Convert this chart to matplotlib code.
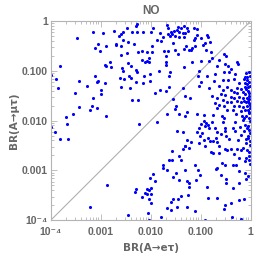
import numpy as np
import matplotlib
matplotlib.use("Agg")
import matplotlib.pyplot as plt
from matplotlib.ticker import LogLocator, FixedLocator, NullFormatter

# values, stored as log10(BR)
log10_br_etau = [
    -3.15, -2.95, -2.73, -3.47, -3.05, -2.69, -2.89, -3.12, -3.02, -2.82, -2.92, -2.89, -2.79, -3.81,
    -3.99, -3.12, -3.89, -3.43, -3.06, -3.08, -2.91, -3.27, -3.85, -2.99, -3.51, -2.99, -3.15, -3.43,
    -3.17, -3.07, -3.21, -3.55, -2.89, -3.69, -3.68, -3.99, -3.91, -3.81, -3.66, -2.88, -3.21,
    -2.28, -2.30, -2.47, -1.95, -1.67, -1.65, -1.45, -1.39, -1.34, -2.56, -2.37, -2.28, -2.15, -1.99,
    -1.82, -1.59, -1.53, -1.48, -1.43, -1.36, -2.60, -2.64, -1.66, -1.61, -1.57, -1.52, -1.43, -1.33,
    -1.76, -1.88, -1.80, -2.45, -2.55, -2.33, -2.69, -2.59, -1.97, -1.55, -1.33, -2.17, -2.07, -1.98,
    -1.74, -1.66, -1.51, -2.48, -2.25, -2.60, -1.45, -1.69, -2.17, -2.11, -2.07, -2.04, -2.03, -2.45,
    -1.69, -1.69, -1.33, -2.40, -2.57, -2.55, -2.29, -2.28, -1.84, -1.61, -2.01, -1.63, -2.43, -2.40,
    -2.61, -2.53, -2.13, -2.01, -2.29, -2.16, -2.59, -2.42, -1.82, -1.70, -1.63, -1.91, -1.36, -2.38,
    -2.25, -1.56, -1.49, -1.51, -1.67, -1.43,
    -1.28, -1.13, -1.08, -1.25, -1.31, -1.07, -0.87, -0.85, -1.00, -1.11, -1.13, -0.81, -0.91, -0.95,
    -1.30, -1.17, -1.23, -1.19, -1.11, -0.80, -0.89, -0.53, -0.49, -0.99, -0.84, -0.64, -1.17, -0.77,
    -1.04, -0.51, -0.45, -0.28, -0.25, -0.40, -0.68, -0.53, -0.43, -0.31, -0.09, -0.72, -1.05, -0.87,
    -0.11, -0.13, -0.08, -0.55, -0.45, -0.33, -0.99, -0.73, -0.23, -0.11, -0.07, -1.03, -0.84, -0.64,
    -0.48, -0.27, -0.20, -0.09, -0.05, -0.55, -0.40, -0.33, -0.27, -0.16, -0.11, -0.04, -0.59, -0.51,
    -1.32, -1.21, -0.77, -0.67, -0.40, -0.33, -0.23, -0.16, -0.08, -0.03, -0.55, -0.47, -0.39, -0.27,
    -0.19, -0.09, -0.04, -0.72, -0.64, -0.53, -0.33, -0.24, -0.15, -0.07, -0.01, -0.68, -0.47, -0.36,
    -0.20, -0.11, -0.03, -1.28, -1.07, -0.93, -0.75, -0.57, -0.29, -0.09, -0.03, -1.31, -0.53,
    -2.23, -1.87, -1.48, -1.36, -1.31, -1.35, -1.58, -1.43, -1.40, -1.64, -1.58, -1.76, -1.76, -1.68,
    -1.32, -1.49, -1.55, -1.44, -1.96, -2.01, -1.92, -2.29, -2.32, -2.08, -2.04, -1.99, -2.11, -2.07,
    -1.99, -2.17, -2.03, -1.99, -1.40, -1.45, -1.55, -1.60, -1.48, -1.67, -1.60, -2.45, -2.05, -1.80,
    -2.03,
    -0.99, -0.93, -0.89, -0.85, -0.77, -0.83, -0.91, -1.03, -1.07, -0.97, -1.01, -0.72, -0.68, -0.59,
    -0.56, -0.52, -0.35, -0.31, -0.16, -0.11, -0.07, -0.13, -0.19, -0.05, -0.01, -0.51, -0.32, -0.93,
    -0.85, -0.81, -0.76, -0.69, -0.67, -0.49, -0.43, -0.25, -0.09, -0.01, -1.28, -1.19, -1.04, -1.32,
    -1.23, -0.92, -0.63, -0.52, -0.47, -0.40, -0.28, -0.19, -0.08, -0.03, -0.80, -0.76, -0.63, -0.33,
    -0.09, -0.24, -0.04, -0.11, -1.12, -0.57, -0.51, -0.35, -0.29, -0.68, -0.69, -1.05, -1.01, -0.60,
    -0.24, -0.11, -1.09, -0.49, -0.09, -1.28, -1.24, -1.24, -0.49, -0.24, -0.88, -0.36, -1.25, -0.85,
    -0.68, -0.13, -0.23, -0.40, -0.51, -1.27, -0.53, -1.12, -0.37, -0.20, -0.92,
    -0.02, -0.04, -0.02, -0.06, -0.03, -0.05, -0.02, -0.06, -0.04, -0.02, -0.05, -0.03, -0.06, -0.02,
    -0.04, -0.03, -0.07, -0.12, -0.14, -0.13, -0.18, -0.22, -0.10, -0.15, -0.02, -0.06,
]
log10_br_mutau = [
    -0.22, -0.25, -0.21, -0.35, -0.46, -0.47, -0.51, -0.55, -0.61, -0.83, -0.89, -0.91, -0.93, -0.90,
    -1.09, -1.10, -1.17, -1.21, -1.20, -1.23, -1.25, -1.30, -1.35, -1.39, -1.45, -1.47, -1.54, -1.73,
    -1.71, -1.75, -1.78, -1.87, -1.91, -1.93, -2.07, -2.13, -2.23, -2.37, -2.37, -3.29, -3.73,
    -0.06, -0.10, -0.14, -0.14, -0.09, -0.14, -0.13, -0.14, -0.11, -0.23, -0.23, -0.23, -0.22, -0.22,
    -0.25, -0.22, -0.21, -0.19, -0.23, -0.25, -0.27, -0.30, -0.27, -0.30, -0.26, -0.31, -0.33, -0.33,
    -0.33, -0.38, -0.41, -0.42, -0.39, -0.47, -0.49, -0.51, -0.50, -0.45, -0.57, -0.61, -0.62, -0.62,
    -0.61, -0.61, -0.59, -0.65, -0.63, -0.69, -0.66, -0.71, -0.79, -0.82, -0.81, -0.83, -0.74, -0.85,
    -0.83, -0.89, -0.93, -0.91, -0.95, -1.01, -0.99, -1.02, -1.01, -1.03, -1.06, -1.10, -1.10, -1.15,
    -1.15, -1.17, -1.11, -1.21, -1.23, -1.25, -1.33, -1.35, -1.38, -1.41, -1.33, -1.45, -1.34, -1.58,
    -1.59, -1.57, -1.70, -1.77, -1.87, -1.87,
    -0.14, -0.14, -0.17, -0.21, -0.25, -0.29, -0.29, -0.33, -0.35, -0.35, -0.38, -0.43, -0.45, -0.49,
    -0.50, -0.54, -0.58, -0.59, -0.51, -0.62, -0.58, -0.66, -0.70, -0.81, -0.81, -0.79, -0.82, -0.75,
    -1.01, -0.87, -0.91, -0.83, -0.87, -0.97, -0.91, -1.03, -1.03, -1.06, -1.05, -1.07, -1.11, -1.11,
    -1.13, -1.17, -1.19, -1.18, -1.18, -1.17, -1.22, -1.21, -1.25, -1.25, -1.26, -1.30, -1.34, -1.30,
    -1.33, -1.35, -1.37, -1.37, -1.33, -1.38, -1.38, -1.42, -1.45, -1.43, -1.46, -1.45, -1.46, -1.49,
    -1.51, -1.54, -1.51, -1.54, -1.53, -1.54, -1.53, -1.55, -1.54, -1.57, -1.59, -1.62, -1.63, -1.61,
    -1.63, -1.62, -1.65, -1.65, -1.69, -1.70, -1.70, -1.71, -1.73, -1.71, -1.74, -1.74, -1.78, -1.79,
    -1.81, -1.78, -1.82, -1.82, -1.86, -1.89, -1.89, -1.90, -1.87, -1.91, -1.94, -1.90, -1.95,
    -2.07, -2.03, -2.21, -2.22, -2.50, -2.57, -2.61, -2.70, -2.78, -2.78, -2.78, -2.89, -2.95, -2.99,
    -2.99, -3.05, -3.13, -3.19, -3.07, -3.15, -3.21, -3.38, -3.43, -3.37, -3.39, -3.35, -3.45, -3.47,
    -3.47, -3.54, -3.58, -3.65, -3.51, -3.57, -3.57, -3.63, -3.73, -3.75, -3.79, -3.90, -3.86, -3.93,
    -3.99,
    -2.06, -2.01, -2.05, -2.09, -2.03, -2.14, -2.11, -2.14, -2.23, -2.25, -2.30, -2.14, -2.23, -2.26,
    -2.03, -2.14, -2.14, -2.03, -1.99, -2.09, -2.14, -2.21, -2.29, -2.30, -2.25, -2.21, -2.21, -2.38,
    -2.34, -2.41, -2.41, -2.35, -2.42, -2.30, -2.37, -2.38, -2.37, -2.41, -2.39, -2.43, -2.45, -2.51,
    -2.54, -2.50, -2.51, -2.57, -2.58, -2.57, -2.57, -2.59, -2.59, -2.62, -2.62, -2.65, -2.65, -2.67,
    -2.74, -2.75, -2.79, -2.81, -2.89, -2.85, -2.89, -2.90, -2.89, -2.95, -2.98, -2.99, -3.10, -3.10,
    -3.01, -3.05, -3.19, -3.18, -3.18, -3.22, -3.25, -3.33, -3.26, -3.25, -3.34, -3.35, -3.49, -3.55,
    -3.55, -3.58, -3.59, -3.66, -3.69, -3.74, -3.77, -3.82, -3.93, -3.97, -3.99,
    -1.10, -1.22, -1.30, -1.40, -1.50, -1.60, -1.68, -1.78, -1.85, -2.00, -2.10, -2.18, -2.35, -2.48,
    -2.70, -1.02, -1.12, -1.33, -1.60, -1.95, -1.90, -2.12, -2.45, -2.55, -2.88, -3.12,
]

major_ticks = [1e-4, 1e-3, 1e-2, 1e-1, 1.0]
tick_labels = ["10\u207b\u2074", "0.001", "0.010", "0.100", "1"]
title_text = "NO"
x_label = "BR(A\u2192e\u03c4)"
y_label = "BR(A\u2192\u03bc\u03c4)"

br_etau = 10.0 ** np.array(log10_br_etau)
br_mutau = 10.0 ** np.array(log10_br_mutau)

plt.rcParams['font.family'] = ['Liberation Sans', 'DejaVu Sans']
gray = '#666666'
frame_gray = '#b4b4b4'

fig = plt.figure(figsize=(2.73, 2.58), dpi=100)
ax = fig.add_axes([50.7 / 273, 1 - 220.3 / 258, 200 / 273, 199.3 / 258])

ax.plot([1e-4, 1], [1e-4, 1], color='#b0b0b0', lw=0.8, zorder=1)
ax.scatter(br_etau, br_mutau, s=5, color='#0000ff', linewidths=0, zorder=2)

ax.set_xscale('log')
ax.set_yscale('log')
ax.set_xlim(1e-4, 1)
ax.set_ylim(1e-4, 1)

for a in (ax.xaxis, ax.yaxis):
    a.set_major_locator(FixedLocator(major_ticks))
    a.set_minor_locator(LogLocator(base=10, subs=np.arange(2, 10)))
    a.set_minor_formatter(NullFormatter())
ax.set_xticklabels(tick_labels)
ax.set_yticklabels(tick_labels)

ax.tick_params(which='both', direction='in', top=True, right=True, color=frame_gray,
               labelcolor=gray, labelsize=7.5, width=0.6)
ax.tick_params(which='major', length=4)
ax.tick_params(which='minor', length=2)
for lbl in ax.get_xticklabels() + ax.get_yticklabels():
    lbl.set_fontweight('bold')
ax.tick_params(axis='x', pad=5)
ax.tick_params(axis='y', pad=2)

for sp in ax.spines.values():
    sp.set_color(frame_gray)
    sp.set_linewidth(0.8)

label_family = ['DejaVu Sans']
ax.set_title(title_text, color=gray, fontsize=8.5, fontweight='bold', pad=5,
             family=['Liberation Sans', 'DejaVu Sans'])
ax.set_xlabel(x_label, color=gray, fontsize=7.5, fontweight='bold', labelpad=4,
              family=label_family)
ax.set_ylabel(y_label, color=gray, fontsize=7.5, fontweight='bold', labelpad=2,
              family=label_family)

fig.savefig('out.png', dpi=100)
